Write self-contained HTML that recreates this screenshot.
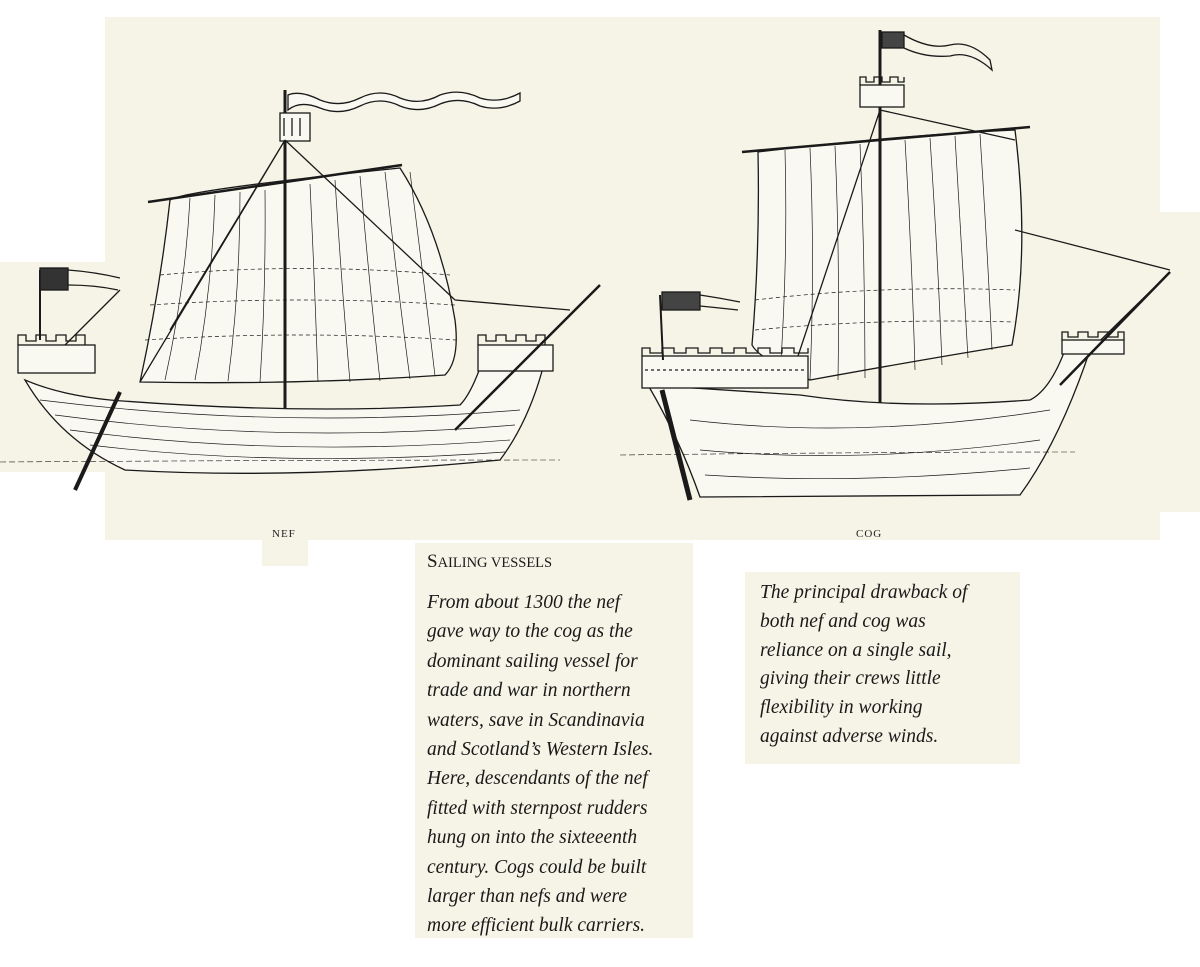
<!DOCTYPE html>
<html><head><meta charset="utf-8"><style>
html,body{margin:0;padding:0;background:#fff;}
body{width:1200px;height:967px;position:relative;overflow:hidden;font-family:"Liberation Serif",serif;}
.p{position:absolute;background:#f6f4e6;}
.t{position:absolute;font-style:italic;font-size:19.5px;line-height:29.4px;color:#1a1a1a;white-space:nowrap;}
svg{position:absolute;left:0;top:0;}
</style></head><body>
<div class="p" style="left:105px;top:17px;width:1055px;height:523px"></div>
<div class="p" style="left:0;top:262px;width:106px;height:210px"></div>
<div class="p" style="left:1158px;top:212px;width:42px;height:300px"></div>
<div class="p" style="left:262px;top:522px;width:46px;height:44px"></div>
<div class="p" style="left:415px;top:543px;width:278px;height:395px"></div>
<div class="p" style="left:745px;top:572px;width:275px;height:192px"></div>
<svg width="1200" height="967" viewBox="0 0 1200 967" fill="none" stroke="#1a1a1a" stroke-width="1.3">
<!-- NEF -->
<path d="M170 200 Q185 190 400 168 Q440 230 455 320 Q460 360 445 375 Q300 385 140 382 Q160 290 170 200Z" fill="#faf9f1"/>
<g stroke-width="0.7">
<path d="M190 198 Q185 290 165 380"/><path d="M215 195 Q212 290 195 380"/><path d="M240 192 Q240 290 228 381"/>
<path d="M265 190 Q266 290 260 382"/><path d="M310 184 Q315 290 318 382"/><path d="M335 180 Q342 290 350 382"/>
<path d="M360 176 Q370 290 380 381"/><path d="M385 172 Q398 290 410 379"/><path d="M410 172 Q425 290 435 376"/>
<path d="M160 275 Q300 262 450 275" stroke-dasharray="4 3"/><path d="M150 305 Q300 295 455 305" stroke-dasharray="4 3"/><path d="M145 340 Q300 330 456 340" stroke-dasharray="4 3"/>
</g>
<path d="M148 202 L402 165" stroke-width="2.5"/>
<path d="M285 90 L285 415" stroke-width="3"/>
<rect x="280" y="113" width="30" height="28" fill="#faf9f1"/>
<path d="M284 118v18M292 118v18M300 118v18"/>
<path d="M288 95 Q300 90 320 100 Q340 108 360 98 Q380 88 400 98 Q420 106 440 95 Q460 88 480 98 Q500 104 520 93 L520 101 Q500 112 480 106 Q460 96 440 104 Q420 114 400 106 Q380 96 360 106 Q340 116 320 108 Q300 100 288 110Z" fill="#faf9f1"/>
<path d="M285 140 L170 330 M285 140 L455 300 M285 140 L140 382 M120 290 L40 370 M455 300 L570 310"/>
<path d="M25 380 Q60 440 125 470 Q300 480 500 460 Q530 420 545 360 L480 368 Q470 395 460 405 Q300 415 110 400 Q60 395 25 380Z" fill="#faf9f1"/>
<g stroke-width="0.7"><path d="M40 400 Q280 430 520 410"/><path d="M55 415 Q280 445 515 425"/><path d="M70 430 Q280 458 510 440"/><path d="M90 445 Q280 468 505 452"/></g>
<rect x="18" y="345" width="77" height="28" fill="#faf9f1"/><path d="M18 345v-10h8v6h10v-6h10v6h10v-6h10v6h10v-6h9v10"/>
<rect x="478" y="345" width="75" height="26" fill="#faf9f1"/><path d="M478 345v-10h8v6h10v-6h10v6h10v-6h10v6h10v-6h9v10"/>
<path d="M120 392 L75 490" stroke-width="4"/>
<path d="M455 430 L600 285" stroke-width="2.5"/>
<path d="M40 270 L40 340" stroke-width="2"/><rect x="40" y="268" width="28" height="22" fill="#333"/><path d="M68 270 Q95 272 120 278 M68 285 Q95 285 118 290" />
<path d="M0 462 Q300 460 560 460" stroke-width="0.6" stroke-dasharray="6 3"/>
<!-- COG -->
<path d="M758 152 Q900 135 1015 130 Q1030 250 1012 345 Q920 360 810 380 Q760 360 752 345 Q760 250 758 152Z" fill="#faf9f1"/>
<g stroke-width="0.7">
<path d="M785 150 Q788 260 780 375"/><path d="M810 148 Q815 260 810 380"/><path d="M835 146 Q840 260 838 380"/><path d="M860 144 Q865 260 865 378"/>
<path d="M905 140 Q912 260 915 370"/><path d="M930 138 Q938 260 942 365"/><path d="M955 136 Q962 260 968 358"/><path d="M980 134 Q988 260 992 350"/>
<path d="M755 300 Q880 285 1015 290" stroke-dasharray="4 3"/><path d="M755 330 Q880 318 1014 322" stroke-dasharray="4 3"/>
</g>
<path d="M742 152 L1030 127" stroke-width="2.5"/>
<path d="M880 30 L880 415" stroke-width="3"/>
<rect x="860" y="85" width="44" height="22" fill="#faf9f1"/><path d="M860 85v-8h6v5h8v-5h8v5h8v-5h8v5h6v-5"/>
<rect x="882" y="32" width="22" height="16" fill="#444"/><path d="M904 35 Q930 50 950 45 Q970 40 990 60 L992 70 Q970 50 950 56 Q925 58 904 48"/>
<path d="M880 110 L790 380 M880 110 L1015 140 M1015 230 L1170 270 M1170 272 L1060 380"/>
<path d="M648 385 Q680 440 700 497 L1020 495 Q1060 440 1090 350 L1065 350 Q1050 390 1030 400 Q900 410 800 395 Q720 390 648 385Z" fill="#faf9f1"/>
<g stroke-width="0.7"><path d="M690 420 Q860 440 1050 410"/><path d="M700 450 Q860 465 1040 440"/><path d="M705 475 Q860 485 1030 468"/></g>
<rect x="642" y="356" width="166" height="32" fill="#faf9f1"/>
<path d="M642 356v-8h8v5h12v-5h12v5h12v-5h12v5h12v-5h12v5h12v-5h12v5h12v-5h12v5h12v-5h12v5h14v-5"/>
<path d="M645 370 H805" stroke-dasharray="3 3"/>
<rect x="1062" y="340" width="62" height="14" fill="#faf9f1"/><path d="M1062 340v-8h6v5h10v-5h10v5h10v-5h10v5h10v-5h6v8"/>
<path d="M1060 385 L1170 272" stroke-width="2.5"/>
<path d="M660 295 L663 360" stroke-width="2"/><rect x="662" y="292" width="38" height="18" fill="#444"/><path d="M700 295 Q720 298 740 302 M700 306 Q720 308 738 310"/>
<path d="M662 390 L690 500" stroke-width="5"/>
<path d="M620 455 Q880 452 1075 452" stroke-width="0.6" stroke-dasharray="6 3"/>
</svg>
<div style="position:absolute;left:272px;top:528px;font-size:11px;letter-spacing:1px;color:#222">NEF</div>
<div style="position:absolute;left:856px;top:528px;font-size:11px;letter-spacing:1px;color:#222">COG</div>
<div style="position:absolute;left:427px;top:551px;font-size:19px;color:#1a1a1a">S<span style="font-size:14.5px">AILING VESSELS</span></div>
<div class="t" style="left:427px;top:588px">From about 1300 the nef<br>gave way to the cog as the<br>dominant sailing vessel for<br>trade and war in northern<br>waters, save in Scandinavia<br>and Scotland’s Western Isles.<br>Here, descendants of the nef<br>fitted with sternpost rudders<br>hung on into the sixteeenth<br>century. Cogs could be built<br>larger than nefs and were<br>more efficient bulk carriers.</div>
<div class="t" style="left:760px;top:579px;line-height:28.8px">The principal drawback of<br>both nef and cog was<br>reliance on a single sail,<br>giving their crews little<br>flexibility in working<br>against adverse winds.</div>
</body></html>
